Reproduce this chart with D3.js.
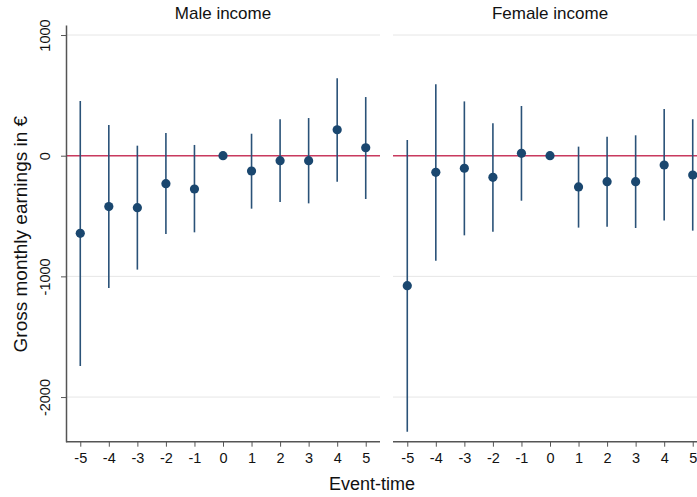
<!DOCTYPE html>
<html><head><meta charset="utf-8">
<script src="https://cdn.jsdelivr.net/npm/d3@7"></script>
<style>body{margin:0;background:#fff}svg{display:block}text{font-family:"Liberation Sans",Arial,sans-serif;fill:#111}</style>
</head><body>
<script>
const eventTimes = [-5,-4,-3,-2,-1,0,1,2,3,4,5];
const maleEst   = [-643,-422,-431,-232,-276,0,-127,-41,-41,215,66];
const maleLo    = [-1742,-1096,-944,-649,-635,0,-439,-384,-395,-215,-359];
const maleHi    = [453,254,83,188,89,0,182,302,312,641,486];
const femaleEst = [-1077,-138,-104,-179,20,0,-259,-215,-215,-77,-160];
const femaleLo  = [-2287,-870,-660,-630,-373,0,-596,-588,-599,-538,-621];
const femaleHi  = [130,591,450,268,412,0,75,157,169,387,302];
const yTicks = [1000,0,-1000,-2000];
const panelTitles = ["Male income","Female income"];

const W=697,H=497;
const svg=d3.select("body").append("svg").attr("width",W).attr("height",H);
const y=d3.scaleLinear().domain([-2370,1083]).range([441.7,25]);
const panels=[
  {title:panelTitles[0],x0:66,x1:380,est:maleEst,lo:maleLo,hi:maleHi},
  {title:panelTitles[1],x0:393,x1:707,est:femaleEst,lo:femaleLo,hi:femaleHi}
];
const navy="#1a476f";
const fmt=d=>String(d);
panels.forEach((p,pi)=>{
  const x=d3.scaleLinear().domain([-5.5,5.5]).range([p.x0,p.x1]);
  const g=svg.append("g");
  g.selectAll(".grid").data(yTicks).join("line")
    .attr("x1",p.x0).attr("x2",Math.min(p.x1,W)).attr("y1",d=>y(d)).attr("y2",d=>y(d))
    .attr("stroke","#e6e6e6").attr("stroke-width",1);
  g.append("line").attr("x1",p.x0).attr("x2",Math.min(p.x1,W)).attr("y1",y(0)).attr("y2",y(0))
    .attr("stroke","#c93a5f").attr("stroke-width",1.6);
  const data=eventTimes.map((t,i)=>({t,e:p.est[i],lo:p.lo[i],hi:p.hi[i]}));
  g.selectAll(".ci").data(data.filter(d=>d.lo!==d.hi)).join("line")
    .attr("x1",d=>x(d.t)).attr("x2",d=>x(d.t)).attr("y1",d=>y(d.lo)).attr("y2",d=>y(d.hi))
    .attr("stroke","#2a5278").attr("stroke-width",1.6);
  g.selectAll(".pt").data(data).join("circle")
    .attr("cx",d=>x(d.t)).attr("cy",d=>y(d.e)).attr("r",4.6).attr("fill",navy);
  const xa=g.append("g").attr("transform",`translate(0,${y.range()[0]})`)
    .call(d3.axisBottom(x).tickValues(eventTimes).tickFormat(fmt).tickSize(5).tickPadding(6).tickSizeOuter(0));
  xa.select(".domain").attr("stroke","#555").attr("stroke-width",1.5).attr("d",`M${p.x0},0H${p.x1}`);
  xa.selectAll(".tick line").attr("stroke","#555");
  xa.selectAll(".tick text").attr("font-size",14.5).attr("font-family","Liberation Sans, Arial, sans-serif").attr("fill","#111");
  svg.append("text").attr("x",(p.x0+p.x1)/2).attr("y",18.5).attr("text-anchor","middle")
    .attr("font-size",17).text(p.title);
  if(pi===0){
    const ya=g.append("g").attr("transform",`translate(${p.x0},0)`)
      .call(d3.axisLeft(y).tickValues(yTicks).tickSize(5).tickSizeOuter(0).tickFormat(fmt));
    ya.select(".domain").attr("stroke","#555").attr("stroke-width",1.5);
    ya.selectAll(".tick line").attr("stroke","#555");
    ya.selectAll(".tick text").attr("font-size",14.5).attr("font-family","Liberation Sans, Arial, sans-serif").attr("fill","#111")
      .attr("x",null).attr("dy",null).attr("text-anchor","middle")
      .attr("transform","translate(-20,0) rotate(-90)").attr("dominant-baseline","middle");
  }
});
svg.append("text").attr("transform",`translate(27,${y(-650)}) rotate(-90)`).attr("text-anchor","middle")
  .attr("font-size",19).text("Gross monthly earnings in €");
svg.append("text").attr("x",372).attr("y",490).attr("text-anchor","middle").attr("font-size",18).text("Event-time");
</script>
</body></html>
